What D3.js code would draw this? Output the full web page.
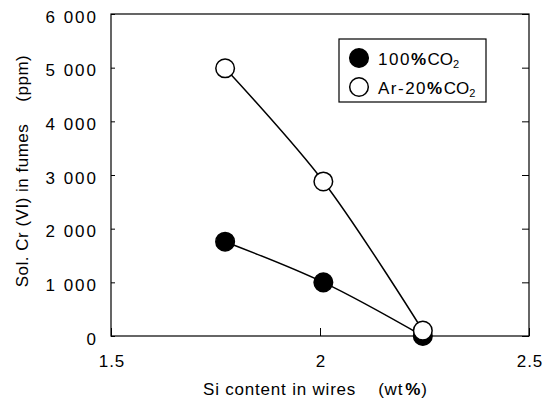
<!DOCTYPE html>
<html><head><meta charset="utf-8">
<script src="https://cdn.jsdelivr.net/npm/d3@7"></script>
<style>body{margin:0;background:#fff}svg text{font-family:"Liberation Sans",Arial,sans-serif;fill:#000}</style>
</head><body><svg id="c" width="550" height="401"></svg>
<script>
const siContent = [1.773, 2.008, 2.246];
const co2_100 = [1757, 1000, 0];
const ar20co2 = [4988, 2880, 100];
const xTicks = [1.5, 2, 2.5];
const yTicks = [0, 1000, 2000, 3000, 4000, 5000, 6000];

const svg = d3.select('#c');
const L = 111, R = 529, T = 14, B = 336;
const x = d3.scaleLinear().domain([1.5, 2.5]).range([L, R]);
const y = d3.scaleLinear().domain([0, 6000]).range([B, T]);
const fmt = d => d3.format(',')(d).replace(/,/g, ' ');

svg.append('rect').attr('x', L).attr('y', T).attr('width', R - L).attr('height', B - T)
  .attr('fill', 'none').attr('stroke', '#000').attr('stroke-width', 1.2);

const gL = svg.append('g').attr('transform', `translate(${L},0)`)
  .call(d3.axisRight(y).tickValues(yTicks).tickSize(4).tickFormat(''));
const gR = svg.append('g').attr('transform', `translate(${R},0)`)
  .call(d3.axisLeft(y).tickValues(yTicks).tickSize(7).tickFormat(''));
const gB = svg.append('g').attr('transform', `translate(0,${B})`)
  .call(d3.axisTop(x).tickValues(xTicks).tickSize(8).tickFormat(''));
[gL, gR, gB].forEach(g => { g.select('.domain').remove(); g.selectAll('line').attr('stroke', '#000'); });

svg.selectAll('.yl').data(yTicks).enter().append('text')
  .attr('x', 98).attr('y', d => y(d) + 8.5).attr('text-anchor', 'end')
  .style('font-size', '17px').style('letter-spacing', '2px').text(fmt);
svg.selectAll('.xl').data(xTicks).enter().append('text')
  .attr('x', d => x(d) + 1).attr('y', 367).attr('text-anchor', 'middle')
  .style('font-size', '17px').style('letter-spacing', '1px').text(d => d3.format('.1~f')(d));

const yt = svg.append('text').attr('transform', 'translate(28,171) rotate(-90)')
  .attr('text-anchor', 'middle').style('font-size', '17px').style('letter-spacing', '0.5px');
yt.append('tspan').text('Sol. Cr (VI) in fumes');
yt.append('tspan').attr('dx', 22).text('(ppm)');

const xt = svg.append('text').attr('x', 203).attr('y', 395).style('font-size', '17px').style('letter-spacing', '0.8px');
xt.append('tspan').text('Si content in wires');
xt.append('tspan').attr('dx', 22).text('(wt');
xt.append('tspan').style('font-weight', 'bold').attr('dx', 2).text('%');
xt.append('tspan').text(')');

const series = [
  {vals: ar20co2, fill: '#fff'},
  {vals: co2_100, fill: '#000'}
];
const line = d3.line().x(d => x(d[0])).y(d => y(d[1])).curve(d3.curveCatmullRom.alpha(0.5));
series.forEach(s => {
  const pts = siContent.map((v, i) => [v, s.vals[i]]);
  svg.append('path').attr('d', line(pts)).attr('fill', 'none').attr('stroke', '#000').attr('stroke-width', 1.5);
});
series.slice().reverse().forEach(s => {
  svg.selectAll(null).data(siContent.map((v, i) => [v, s.vals[i]])).enter().append('circle')
    .attr('cx', d => x(d[0])).attr('cy', d => y(d[1])).attr('r', 9.3)
    .attr('fill', s.fill).attr('stroke', '#000').attr('stroke-width', 1.5);
});

svg.append('rect').attr('x', 339).attr('y', 39).attr('width', 147).attr('height', 63)
  .attr('fill', '#fff').attr('stroke', '#000').attr('stroke-width', 1.2);
const leg = [{fill: '#000', pre: '100', lx: 359, ly: 58}, {fill: '#fff', pre: 'Ar-20', lx: 359, ly: 87}];
leg.forEach(l => {
  svg.append('circle').attr('cx', l.lx).attr('cy', l.ly).attr('r', 9.3)
    .attr('fill', l.fill).attr('stroke', '#000').attr('stroke-width', 1.5);
  const t = svg.append('text').attr('x', 378).attr('y', l.ly + 6.5).style('font-size', '17px')
    .style('letter-spacing', '1.5px');
  t.append('tspan').text(l.pre);
  t.append('tspan').style('font-weight', 'bold').text('%');
  t.append('tspan').style('letter-spacing', '0px').text('CO');
  t.append('tspan').attr('dy', 3).style('font-size', '11px').style('letter-spacing', '0px').text('2');
});
</script></body></html>
